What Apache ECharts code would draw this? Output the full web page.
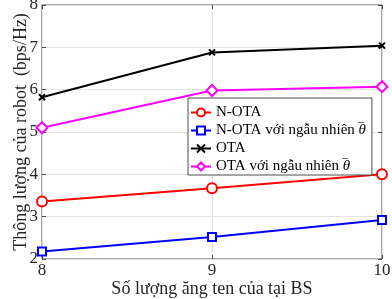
<!DOCTYPE html>
<html>
<head>
<meta charset="utf-8">
<script src="https://cdn.jsdelivr.net/npm/echarts@6/dist/echarts.min.js"></script>
<style>
  html, body { margin: 0; padding: 0; background: #fff; }
  #main { width: 392px; height: 299px; }
</style>
</head>
<body>
<div id="main"></div>
<script>
// antennas at the BS
const antennas = [8, 9, 10];
const nOta = [3.36, 3.67, 4.0];
const nOtaRandom = [2.18, 2.52, 2.92];
const ota = [5.82, 6.88, 7.04];
const otaRandom = [5.1, 5.98, 6.07];
const yTicks = [2, 3, 4, 5, 6, 7, 8];

const serif = '"Liberation Serif", "DejaVu Serif", serif';
const crossPath = 'path://M0 0L10 10M10 0L0 10';

function pairs(ys) {
    return antennas.map((x, i) => [x, ys[i]]);
}

const chart = echarts.init(document.getElementById('main'));

function makeSeries(name, data, color, symbol, size) {
    return {
        name: name,
        type: 'line',
        data: pairs(data),
        symbol: symbol,
        symbolSize: size,
        showAllSymbol: true,
        lineStyle: { color: color, width: 2 },
        itemStyle: { color: symbol === crossPath ? color : '#fff', borderColor: color, borderWidth: 2 },
        emphasis: { disabled: true },
        z: 3
    };
}

// theta with a bar on top: the bar is a zero-width token drawn over the letter
const legendRich = {
    o: { fontFamily: serif, fontSize: 15, width: 0, align: 'left', color: '#000' },
    t: { fontFamily: serif, fontStyle: 'italic', fontSize: 15, color: '#000' }
};

chart.setOption({
    animation: false,
    grid: {
        left: 42, right: 10, top: 5, bottom: 40,
        containLabel: false, outerBoundsMode: 'none',
        show: true, borderColor: '#4d4d4d', borderWidth: 1
    },
    legend: {
        orient: 'vertical',
        left: 188,
        top: 98,
        itemWidth: 20,
        itemHeight: 10,
        itemGap: 3,
        padding: [7, 6, 1, 2],
        backgroundColor: '#fff',
        borderColor: '#4d4d4d',
        borderWidth: 1,
        textStyle: { fontFamily: serif, fontSize: 15, color: '#000', rich: legendRich },
        formatter: function (name) {
            if (name.endsWith('θ')) {
                return name.slice(0, -1) + '{o|\u203E}{t|θ}';
            }
            return name;
        },
        data: ['N-OTA', 'N-OTA với ngẫu nhiên θ', 'OTA', 'OTA với ngẫu nhiên θ']
    },
    xAxis: [{
        type: 'value',
        min: 8,
        max: 10,
        interval: 1,
        name: 'Số lượng ăng ten của tại BS',
        nameLocation: 'middle',
        nameGap: 21,
        nameMoveOverlap: false,
        nameTextStyle: { fontFamily: serif, fontSize: 18, color: '#262626' },
        axisLine: { show: false },
        axisTick: { show: true, inside: true, length: 4, lineStyle: { color: '#4d4d4d' } },
        axisLabel: { fontFamily: serif, fontSize: 17, color: '#262626', margin: 3 },
        splitLine: { show: true, lineStyle: { color: '#e3e3e3', width: 1 } }
    }, {
        type: 'value',
        position: 'top',
        min: 8,
        max: 10,
        interval: 1,
        axisLine: { show: false },
        axisTick: { show: true, inside: true, length: 4, lineStyle: { color: '#4d4d4d' } },
        axisLabel: { show: false },
        splitLine: { show: false }
    }],
    yAxis: [{
        type: 'value',
        min: yTicks[0],
        max: yTicks[yTicks.length - 1],
        interval: 1,
        name: 'Thông lượng của robot  (bps/Hz)',
        nameLocation: 'middle',
        nameGap: 12,
        nameMoveOverlap: false,
        nameTextStyle: { fontFamily: serif, fontSize: 18, color: '#262626' },
        axisLine: { show: false },
        axisTick: { show: true, inside: true, length: 4, lineStyle: { color: '#4d4d4d' } },
        axisLabel: { fontFamily: serif, fontSize: 17, color: '#262626', margin: 4 },
        splitLine: { show: true, lineStyle: { color: '#e3e3e3', width: 1 } }
    }, {
        type: 'value',
        position: 'right',
        min: yTicks[0],
        max: yTicks[yTicks.length - 1],
        interval: 1,
        axisLine: { show: false },
        axisTick: { show: true, inside: true, length: 4, lineStyle: { color: '#4d4d4d' } },
        axisLabel: { show: false },
        splitLine: { show: false }
    }],
    series: [
        makeSeries('N-OTA', nOta, '#ff0000', 'circle', 10),
        makeSeries('N-OTA với ngẫu nhiên θ', nOtaRandom, '#0000ff', 'rect', 8),
        makeSeries('OTA', ota, '#000000', crossPath, 6),
        makeSeries('OTA với ngẫu nhiên θ', otaRandom, '#ff00ff', 'diamond', 11)
    ]
});
</script>
</body>
</html>
